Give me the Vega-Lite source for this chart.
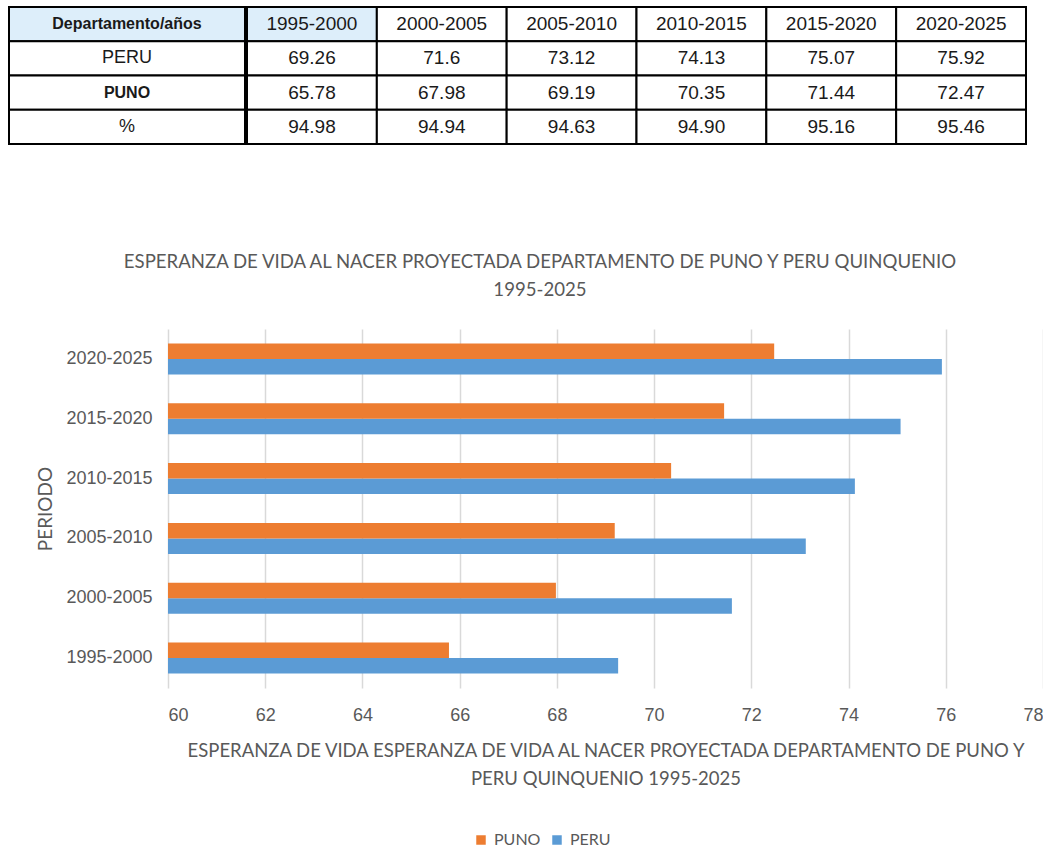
{
  "$schema": "https://vega.github.io/schema/vega-lite/v6.json",
  "padding": {"left": 8, "top": 6, "right": 0, "bottom": 0},
  "background": "white",
  "config": {
    "view": {"stroke": null},
    "font": "Liberation Sans"
  },
  "datasets": {
    "esperanza": [
      {"periodo": "1995-2000", "serie": "PERU", "valor": 69.26},
      {"periodo": "1995-2000", "serie": "PUNO", "valor": 65.78},
      {"periodo": "2000-2005", "serie": "PERU", "valor": 71.6},
      {"periodo": "2000-2005", "serie": "PUNO", "valor": 67.98},
      {"periodo": "2005-2010", "serie": "PERU", "valor": 73.12},
      {"periodo": "2005-2010", "serie": "PUNO", "valor": 69.19},
      {"periodo": "2010-2015", "serie": "PERU", "valor": 74.13},
      {"periodo": "2010-2015", "serie": "PUNO", "valor": 70.35},
      {"periodo": "2015-2020", "serie": "PERU", "valor": 75.07},
      {"periodo": "2015-2020", "serie": "PUNO", "valor": 71.44},
      {"periodo": "2020-2025", "serie": "PERU", "valor": 75.92},
      {"periodo": "2020-2025", "serie": "PUNO", "valor": 72.47}
    ],
    "filas": [
      {"fila": "Departamento/años"},
      {"fila": "PERU"},
      {"fila": "PUNO"},
      {"fila": "%"}
    ],
    "tabla": [
      {"fila": "Departamento/años", "periodo": "1995-2000", "texto": "1995-2000"},
      {"fila": "Departamento/años", "periodo": "2000-2005", "texto": "2000-2005"},
      {"fila": "Departamento/años", "periodo": "2005-2010", "texto": "2005-2010"},
      {"fila": "Departamento/años", "periodo": "2010-2015", "texto": "2010-2015"},
      {"fila": "Departamento/años", "periodo": "2015-2020", "texto": "2015-2020"},
      {"fila": "Departamento/años", "periodo": "2020-2025", "texto": "2020-2025"},
      {"fila": "PERU", "periodo": "1995-2000", "texto": "69.26"},
      {"fila": "PERU", "periodo": "2000-2005", "texto": "71.6"},
      {"fila": "PERU", "periodo": "2005-2010", "texto": "73.12"},
      {"fila": "PERU", "periodo": "2010-2015", "texto": "74.13"},
      {"fila": "PERU", "periodo": "2015-2020", "texto": "75.07"},
      {"fila": "PERU", "periodo": "2020-2025", "texto": "75.92"},
      {"fila": "PUNO", "periodo": "1995-2000", "texto": "65.78"},
      {"fila": "PUNO", "periodo": "2000-2005", "texto": "67.98"},
      {"fila": "PUNO", "periodo": "2005-2010", "texto": "69.19"},
      {"fila": "PUNO", "periodo": "2010-2015", "texto": "70.35"},
      {"fila": "PUNO", "periodo": "2015-2020", "texto": "71.44"},
      {"fila": "PUNO", "periodo": "2020-2025", "texto": "72.47"},
      {"fila": "%", "periodo": "1995-2000", "texto": "94.98"},
      {"fila": "%", "periodo": "2000-2005", "texto": "94.94"},
      {"fila": "%", "periodo": "2005-2010", "texto": "94.63"},
      {"fila": "%", "periodo": "2010-2015", "texto": "94.90"},
      {"fila": "%", "periodo": "2015-2020", "texto": "95.16"},
      {"fila": "%", "periodo": "2020-2025", "texto": "95.46"}
    ]
  },
  "spacing": 108,
  "vconcat": [
    {
      "spacing": 0,
      "hconcat": [
        {
          "width": 236,
          "height": 137,
          "data": {"name": "filas"},
          "encoding": {
            "y": {"field": "fila", "type": "nominal", "sort": ["Departamento/años", "PERU", "PUNO", "%"], "axis": null, "scale": {"paddingInner": 0, "paddingOuter": 0}}
          },
          "layer": [
            {
              "mark": {"type": "rect", "stroke": "black", "strokeWidth": 2},
              "encoding": {"fill": {"condition": {"test": "datum.fila === 'Departamento/años'", "value": "#DDEEFA"}, "value": "white"}}
            },
            {
              "transform": [{"filter": "datum.fila === 'PERU' || datum.fila === '%'"}],
              "mark": {"type": "text", "fontSize": 18, "color": "#1a1a1a"},
              "encoding": {"text": {"field": "fila"}}
            },
            {
              "transform": [{"filter": "datum.fila === 'PUNO'"}],
              "mark": {"type": "text", "fontSize": 16, "fontWeight": "bold", "color": "#1a1a1a"},
              "encoding": {"text": {"field": "fila"}}
            },
            {
              "transform": [{"filter": "datum.fila === 'Departamento/años'"}],
              "mark": {"type": "text", "fontSize": 16, "fontWeight": "bold", "color": "#1a1a1a"},
              "encoding": {"text": {"field": "fila"}}
            }
          ]
        },
        {
          "width": 779,
          "height": 137,
          "data": {"name": "tabla"},
          "encoding": {
            "x": {"field": "periodo", "type": "nominal", "sort": ["1995-2000", "2000-2005", "2005-2010", "2010-2015", "2015-2020", "2020-2025"], "axis": null, "scale": {"paddingInner": 0, "paddingOuter": 0}},
            "y": {"field": "fila", "type": "nominal", "sort": ["Departamento/años", "PERU", "PUNO", "%"], "axis": null, "scale": {"paddingInner": 0, "paddingOuter": 0}}
          },
          "layer": [
            {
              "mark": {"type": "rect", "stroke": "black", "strokeWidth": 2},
              "encoding": {"fill": {"condition": {"test": "datum.fila === 'Departamento/años' && datum.periodo === '1995-2000'", "value": "#DDEEFA"}, "value": "white"}}
            },
            {
              "mark": {"type": "text", "fontSize": 19, "color": "#1a1a1a"},
              "encoding": {"text": {"field": "texto"}}
            }
          ]
        }
      ]
    },
    {
      "spacing": 0,
      "hconcat": [
        {
          "width": 27,
          "height": 1,
          "data": {"values": []},
          "mark": "text",
          "encoding": {}
        },
        {
          "width": 875,
          "height": 359,
          "data": {"name": "esperanza"},
          "title": {
            "text": ["ESPERANZA  DE VIDA AL NACER  PROYECTADA  DEPARTAMENTO   DE PUNO Y PERU QUINQUENIO", "1995-2025"],
            "frame": "bounds",
            "anchor": "middle",
            "font": "Lato",
            "fontSize": 18.6,
            "fontWeight": "normal",
            "color": "#595959",
            "lineHeight": 28,
            "offset": 29
          },
          "mark": {"type": "bar"},
          "encoding": {
            "y": {
              "field": "periodo",
              "type": "nominal",
              "sort": ["2020-2025", "2015-2020", "2010-2015", "2005-2010", "2000-2005", "1995-2000"],
              "scale": {"paddingInner": 0.482, "paddingOuter": 0.243},
              "axis": {
                "title": "PERIODO",
                "labelFontSize": 18,
                "labelColor": "#595959",
                "labelPadding": 16,
                "ticks": false,
                "domain": false,
                "titleFont": "Lato",
                "titleFontSize": 19,
                "titleFontWeight": "normal",
                "titleColor": "#595959",
                "titlePadding": 10
              }
            },
            "yOffset": {"field": "serie", "type": "nominal", "sort": ["PUNO", "PERU"]},
            "x": {
              "field": "valor",
              "type": "quantitative",
              "scale": {"domain": [60, 78], "zero": false, "nice": false},
              "axis": {
                "values": [60, 62, 64, 66, 68, 70, 72, 74, 76, 78],
                "title": ["ESPERANZA  DE VIDA ESPERANZA  DE VIDA AL NACER  PROYECTADA  DEPARTAMENTO   DE PUNO Y", "PERU QUINQUENIO  1995-2025"],
                "grid": true,
                "gridColor": "#D9D9D9",
                "gridWidth": 1.5,
                "domain": false,
                "ticks": false,
                "labelFontSize": 18,
                "labelColor": "#595959",
                "labelPadding": 18,
                "titleFont": "Lato",
                "titleFontSize": 18.5,
                "titleFontWeight": "normal",
                "titleColor": "#595959",
                "titleLineHeight": 28,
                "titlePadding": 17
              }
            },
            "x2": {"datum": 60},
            "color": {
              "field": "serie",
              "type": "nominal",
              "scale": {"domain": ["PUNO", "PERU"], "range": ["#ED7D31", "#5B9BD5"]},
              "legend": {
                "title": null,
                "orient": "none",
                "direction": "horizontal",
                "legendX": 464,
                "legendY": 825,
                "symbolType": "square",
                "symbolSize": 90,
                "symbolStrokeWidth": 0,
                "labelFont": "Lato",
                "labelFontSize": 16,
                "labelColor": "#595959",
                "labelOffset": 5,
                "columnPadding": 8
              }
            }
          }
        }
      ]
    }
  ]
}
